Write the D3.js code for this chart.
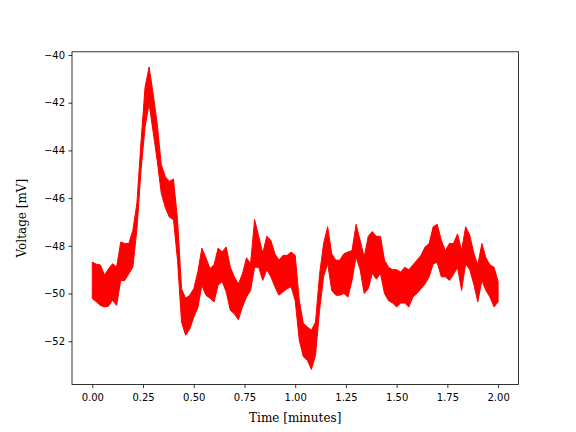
<!DOCTYPE html>
<html>
<head>
<meta charset="utf-8">
<script src="https://cdn.jsdelivr.net/npm/d3@7"></script>
<style>
  body { margin: 0; background: #fff; }
  .axis text { font-family: "DejaVu Sans", sans-serif; font-size: 10px; fill: #000; }
  .axis path, .axis line { stroke: #000; stroke-width: 0.8; }
</style>
</head>
<body>
<svg width="576" height="432"></svg>
<script>
// time in minutes, sampled every 0.02 min
var times = d3.range(0, 101).map(function(i) { return +(i * 0.02).toFixed(2); });

// upper edge of the noisy trace (mV)
var upper = [
  -48.68, -48.77, -48.80, -49.23, -48.96, -48.75, -48.89, -47.84, -47.90, -47.90,
  -47.35, -46.20, -43.65, -41.35, -40.50, -41.63, -42.89, -44.60, -45.10, -45.30,
  -45.20, -46.90, -49.80, -50.20, -50.07, -49.80, -49.10, -48.10, -48.50, -48.95,
  -48.80, -48.10, -48.25, -48.05, -48.89, -49.30, -49.60, -49.17, -48.50, -48.75,
  -46.90, -47.60, -48.30, -47.60, -47.77, -48.33, -48.60, -48.40, -48.40, -48.26,
  -48.40, -50.28, -51.25, -51.40, -51.54, -51.20, -49.20, -47.90, -47.20, -48.33,
  -48.60, -48.60, -48.33, -48.26, -48.20, -47.10, -47.77, -48.47, -47.60, -47.40,
  -47.60, -47.60, -48.60, -48.90, -49.00, -49.00, -49.10, -48.90, -49.00, -48.80,
  -48.60, -48.40, -48.05, -47.90, -47.20, -47.10, -47.77, -48.20, -47.90, -47.90,
  -47.50, -48.20, -47.20, -47.55, -48.30, -48.80, -47.90, -48.50, -48.80, -48.90,
  -49.50
];

// lower edge of the noisy trace (mV)
var lower = [
  -50.21, -50.35, -50.50, -50.56, -50.53, -50.28, -50.50, -49.45, -49.45, -49.17,
  -48.89, -47.30, -44.84, -43.02, -42.05, -43.23, -44.43, -45.80, -46.40, -46.80,
  -46.90, -48.60, -51.20, -51.75, -51.50, -51.00, -50.60, -49.65, -50.07, -50.20,
  -50.35, -49.65, -49.50, -49.93, -50.70, -50.85, -51.10, -50.56, -50.15, -49.87,
  -48.90, -48.90, -49.45, -49.00, -49.30, -49.72, -50.07, -49.93, -49.80, -49.72,
  -50.30, -51.95, -52.65, -52.80, -53.18, -52.60, -50.70, -49.30, -48.75, -49.87,
  -50.07, -50.07, -50.00, -50.15, -49.45, -48.47, -49.00, -50.00, -49.80, -49.15,
  -49.40, -49.15, -50.00, -50.30, -50.40, -50.56, -50.40, -50.40, -50.56, -50.15,
  -50.00, -49.80, -49.60, -49.30, -48.75, -48.70, -49.30, -49.30, -49.45, -49.20,
  -48.90, -49.87, -48.75, -49.00, -49.60, -50.35, -49.45, -49.87, -50.15, -50.56,
  -50.35
];

var xTicks = [0, 0.25, 0.5, 0.75, 1, 1.25, 1.5, 1.75, 2];
var yTicks = [-52, -50, -48, -46, -44, -42, -40];

var svg = d3.select("svg"),
    margin = { top: 51.8, right: 57.6, bottom: 47.5, left: 72 },
    width = +svg.attr("width") - margin.left - margin.right,
    height = +svg.attr("height") - margin.top - margin.bottom;

var data = times.map(function(t, i) {
    return { t: t, hi: upper[i], lo: lower[i] };
});

// matplotlib style 5% margins
var tExt = d3.extent(times),
    vMin = d3.min(lower),
    vMax = d3.max(upper),
    tPad = (tExt[1] - tExt[0]) * 0.05,
    vPad = (vMax - vMin) * 0.05;

var x = d3.scaleLinear()
    .domain([tExt[0] - tPad, tExt[1] + tPad])
    .range([0, width]);

var y = d3.scaleLinear()
    .domain([vMin - vPad, vMax + vPad])
    .range([height, 0]);

var chart = svg.append("g")
    .attr("transform", "translate(" + margin.left + "," + margin.top + ")");

// the trace
var area = d3.area()
    .x(function(d) { return x(d.t); })
    .y0(function(d) { return y(d.lo); })
    .y1(function(d) { return y(d.hi); });

chart.append("path")
    .datum(data)
    .attr("d", area)
    .attr("fill", "#ff0000")
    .attr("stroke", "#ff0000")
    .attr("stroke-width", 1)
    .attr("stroke-linejoin", "miter");

// axes
chart.append("g")
    .attr("class", "axis")
    .attr("transform", "translate(0," + height + ")")
    .call(d3.axisBottom(x).tickValues(xTicks).tickFormat(d3.format(".2f")).tickSizeInner(3.5).tickSizeOuter(0).tickPadding(5.5))
    .select(".domain").remove();

chart.append("g")
    .attr("class", "axis")
    .call(d3.axisLeft(y).tickValues(yTicks).tickFormat(d3.format("d")).tickSizeInner(3.5).tickSizeOuter(0).tickPadding(3.5))
    .select(".domain").remove();

// frame
chart.append("rect")
    .attr("width", width)
    .attr("height", height)
    .attr("fill", "none")
    .attr("stroke", "#000")
    .attr("stroke-width", 0.8);

// axis labels
svg.append("text")
    .attr("x", margin.left + width / 2)
    .attr("y", 422)
    .attr("text-anchor", "middle")
    .style("font-family", "'DejaVu Serif', serif")
    .style("font-size", "12px")
    .text("Time [minutes]");

svg.append("text")
    .attr("transform", "translate(26," + (margin.top + height / 2) + ")rotate(-90)")
    .attr("text-anchor", "middle")
    .style("font-family", "'DejaVu Serif', serif")
    .style("font-size", "12px")
    .text("Voltage [mV]");
</script>
</body>
</html>
